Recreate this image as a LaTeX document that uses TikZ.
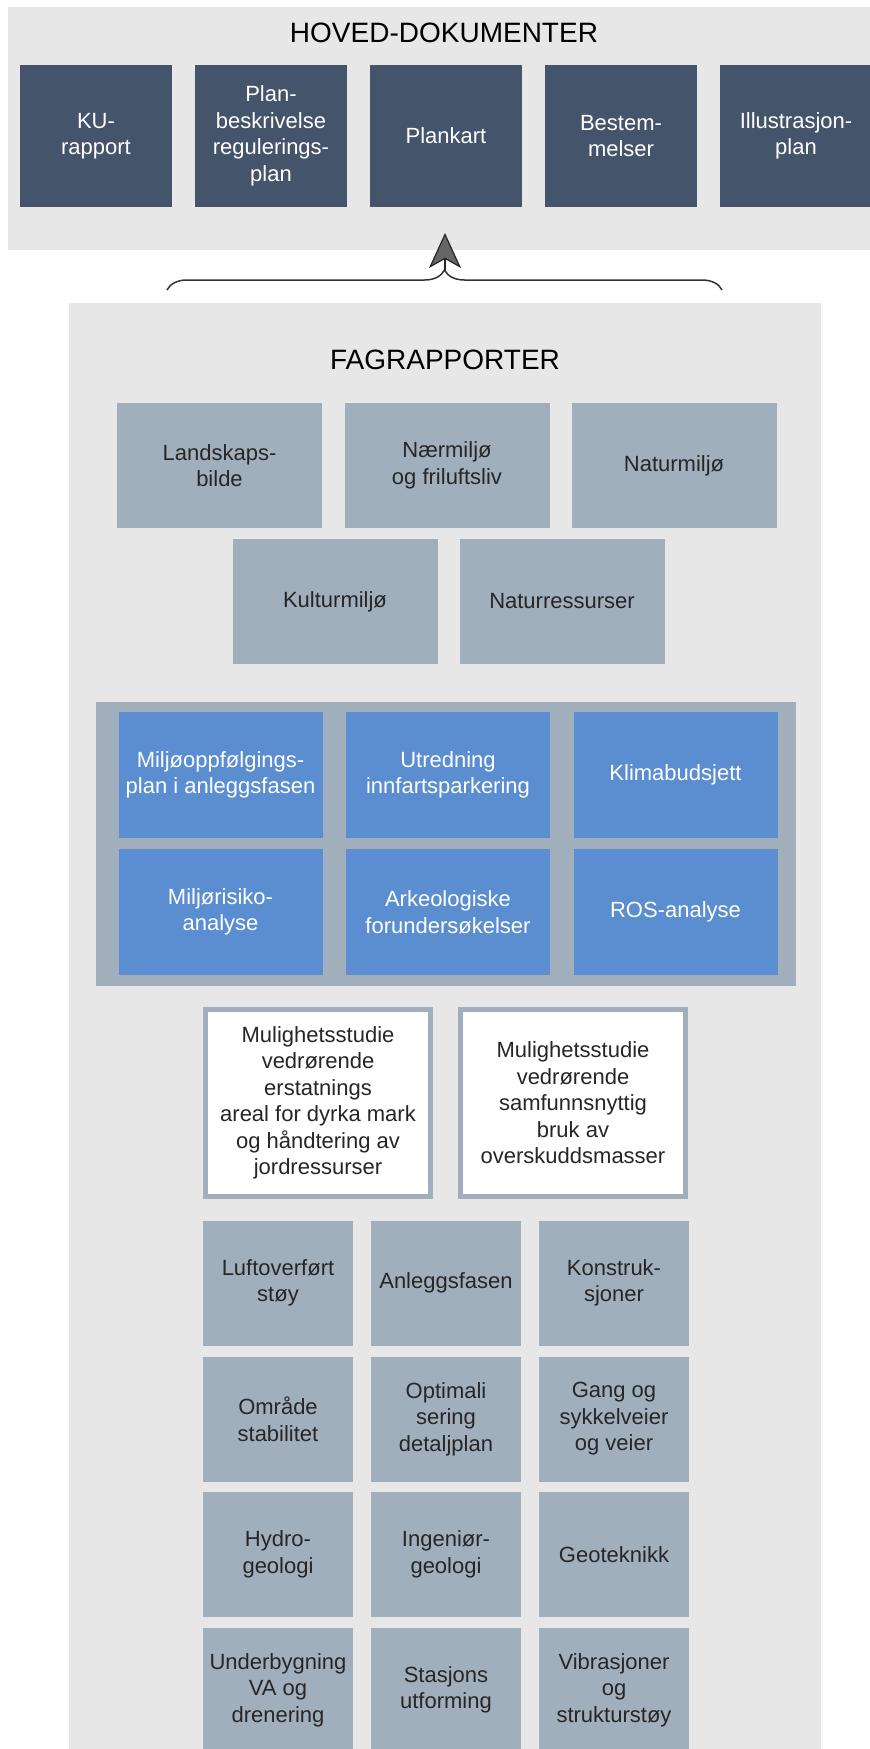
\documentclass[tikz,border=0pt]{standalone}
\usepackage{fontspec}
\setmainfont{Liberation Sans}
\usetikzlibrary{arrows.meta,decorations.pathreplacing}

\definecolor{panelgray}{RGB}{231,231,231}
\definecolor{hovedblue}{RGB}{68,84,106}
\definecolor{faggray}{RGB}{161,175,189}
\definecolor{tilleggblue}{RGB}{91,142,208}

\begin{document}
\begin{tikzpicture}[x=1pt,y=-1pt]

    \tikzset{
      boks/.style={
        inner sep=0pt,
        align=center,
        font=\fontsize{22}{26.5}\selectfont,
      },
      hoved/.style={boks, fill=hovedblue, text=white, minimum width=152pt, minimum height=142pt},
      fag/.style={boks, fill=faggray, text=black!85, minimum width=205pt, minimum height=125pt},
      tillegg/.style={boks, fill=tilleggblue, text=white, minimum width=204pt, minimum height=126pt},
      studie/.style={boks, fill=white, text=black!85, draw=faggray, line width=5pt, minimum width=225pt, minimum height=187pt},
      grunn/.style={fag, minimum width=150pt},
      tittel/.style={font=\fontsize{28}{32}\selectfont},
    }
    \clip (0,0) rectangle (870,1749);
    \fill[white] (0,0) rectangle (870,1749);

    % panels
    \fill[panelgray] (8,7) rectangle (880,250);
    \fill[panelgray] (69,303) rectangle (821,1760);
    \fill[faggray] (96,702) rectangle (796,986);

    % hoved-dokumenter
    \node[tittel] (hovedtittel) at (444,33) {HOVED-DOKUMENTER};
    \node[hoved] (ku) at (96,136) {KU-\\rapport};
    \node[hoved] (planbeskr) at (271,136) {Plan-\\beskrivelse\\regulerings-\\plan};
    \node[hoved] (plankart) at (446,136) {Plankart};
    \node[hoved] (bestem) at (621,136) {Bestem-\\melser};
    \node[hoved] (illustr) at (796,136) {Illustrasjon-\\plan};

    % brace and arrow
    \coordinate (brace-l) at (167,290);
    \coordinate (brace-r) at (722,290);
    \coordinate (brace-tip) at (445,270);
    \coordinate (pil-tip) at (445,233);
    \draw[decorate, decoration={brace, amplitude=20pt}, line width=1.5pt, draw=black!80] (brace-l) -- (brace-r);
    \draw[-{Stealth[length=35pt,width=32pt,inset=9pt,fill=black!60]}, line width=1.2pt, draw=black!85] (brace-tip) -- (pil-tip);

    % fagrapporter
    \node[tittel] (fagtittel) at (445,360) {FAGRAPPORTER};
    \node[fag] (landskap) at (219.5,465.5) {Landskaps-\\bilde};
    \node[fag] (naermiljo) at (447,465.5) {Nærmiljø\\og friluftsliv};
    \node[fag] (naturmiljo) at (674,465.5) {Naturmiljø};
    \node[fag] (kulturmiljo) at (335,601.5) {Kulturmiljø};
    \node[fag] (naturress) at (562,601.5) {Naturressurser};

    % tilleggsutredninger
    \node[tillegg] (miljoopp) at (220.5,775) {Miljøoppfølgings-\\plan i anleggsfasen};
    \node[tillegg] (innfart) at (448,775) {Utredning\\innfartsparkering};
    \node[tillegg] (klima) at (675.5,775) {Klimabudsjett};
    \node[tillegg] (miljorisiko) at (220.5,912) {Miljørisiko-\\analyse};
    \node[tillegg] (arkeologi) at (448,912) {Arkeologiske\\forundersøkelser};
    \node[tillegg] (ros) at (675.5,912) {ROS-analyse};

    % mulighetsstudier
    \node[studie] (dyrkamark) at (318,1103) {Mulighetsstudie\\vedrørende\\erstatnings\\areal for dyrka mark\\og håndtering av\\jordressurser};
    \node[studie] (overskudd) at (573,1103) {Mulighetsstudie\\vedrørende\\samfunnsnyttig\\bruk av\\overskuddsmasser};

    % tekniske fagrapporter
    \node[grunn] (luftstoy) at (278,1283) {Luftoverført\\støy};
    \node[grunn] (anlegg) at (446,1283) {Anleggsfasen};
    \node[grunn] (konstr) at (614,1283) {Konstruk-\\sjoner};
    \node[grunn] (stabilitet) at (278,1419) {Område\\stabilitet};
    \node[grunn] (optimal) at (446,1419) {Optimali\\sering\\detaljplan};
    \node[grunn] (gangsykkel) at (614,1419) {Gang og\\sykkelveier\\og veier};
    \node[grunn] (hydro) at (278,1554.5) {Hydro-\\geologi};
    \node[grunn] (ingenior) at (446,1554.5) {Ingeniør-\\geologi};
    \node[grunn] (geotek) at (614,1554.5) {Geoteknikk};
    \node[grunn] (underbygn) at (278,1690) {Underbygning\\VA og\\drenering};
    \node[grunn] (stasjon) at (446,1690) {Stasjons\\utforming};
    \node[grunn] (vibrasjon) at (614,1690) {Vibrasjoner\\og\\strukturstøy};

\end{tikzpicture}
\end{document}
